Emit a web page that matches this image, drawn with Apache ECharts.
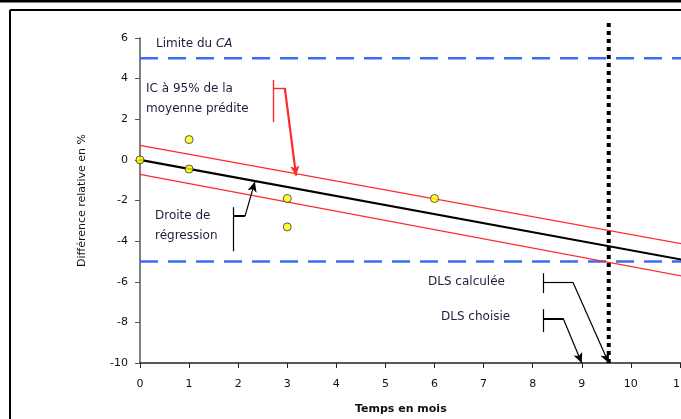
<!DOCTYPE html>
<html>
<head>
<meta charset="utf-8">
<script src="https://cdn.jsdelivr.net/npm/echarts@6/dist/echarts.min.js"></script>
<style>
  html, body { margin: 0; padding: 0; background: #fff; }
  #chart { width: 681px; height: 419px; }
</style>
</head>
<body>
<div id="chart"></div>
<script>
  // points mesurés
  var months = [0, 1, 1, 3, 3, 6];
  var diffs = [0, 1.0, -0.45, -1.9, -3.3, -1.9];
  // droite de régression et IC 95%
  var fitX = [0, 12];
  var fitY = [0, -5.34];
  var upperY = [0.71, -4.55];
  var lowerY = [-0.71, -6.15];
  // limites du CA
  var limits = [5, -5];
  // DLS
  var dlsCalc = 9.55;
  var dlsChoisie = 9;
  var dlsTop = 6.75;

  var font = '"DejaVu Sans", sans-serif';
  var textCol = '#1e1e3c';
  var red = '#ff2a2a';

  function pairs(xs, ys) {
    return xs.map(function(x, i) { return [x, ys[i]]; });
  }
  function seg(a, b, style, arrow) {
    return [
      { coord: a, lineStyle: style, symbol: 'none' },
      { coord: b, symbol: arrow ? 'arrow' : 'none', symbolSize: arrow ? [7, 10] : 0 }
    ];
  }
  function note(x, y, txt) {
    return { type: 'text', left: x, top: y, silent: true, style: { text: txt, fill: textCol, font: '12px ' + font } };
  }

  var chart = echarts.init(document.getElementById('chart'));
  var option = {
    animation: false,
    grid: { left: 140, top: 38, right: -48, bottom: 56, containLabel: false, outerBoundsMode: 'none' },
    xAxis: {
      type: 'value', min: 0, max: 12, interval: 1,
      axisLine: { onZero: false, lineStyle: { color: '#222', width: 1.5 } },
      axisTick: { length: 5, lineStyle: { color: '#222' } },
      axisLabel: { margin: 16, color: '#111', fontFamily: font, fontSize: 11 },
      splitLine: { show: false }
    },
    yAxis: {
      type: 'value', min: -10, max: 6, interval: 2,
      name: 'Différence relative en %', nameLocation: 'middle', nameGap: 52, nameRotate: 90,
      nameTextStyle: { color: '#111', fontFamily: font, fontSize: 11 },
      axisLine: { show: true, lineStyle: { color: '#555', width: 1.5 } },
      axisTick: { show: true, length: 5, lineStyle: { color: '#555' } },
      axisLabel: { margin: 12, color: '#111', fontFamily: font, fontSize: 11 },
      splitLine: { show: false }
    },
    series: [
      {
        type: 'line', data: [[0, limits[0]], [12, limits[0]]], symbol: 'none', silent: true,
        lineStyle: { color: '#3b6cf2', width: 2.5, type: [18, 10] }
      },
      {
        type: 'line', data: [[0, limits[1]], [12, limits[1]]], symbol: 'none', silent: true,
        lineStyle: { color: '#3b6cf2', width: 2.5, type: [18, 10] }
      },
      {
        type: 'line', data: pairs(fitX, upperY), symbol: 'none', silent: true,
        lineStyle: { color: red, width: 1.2 }
      },
      {
        type: 'line', data: pairs(fitX, lowerY), symbol: 'none', silent: true,
        lineStyle: { color: red, width: 1.2 }
      },
      {
        type: 'line', data: pairs(fitX, fitY), symbol: 'none', silent: true,
        lineStyle: { color: '#000', width: 2.2 }
      },
      {
        type: 'line', data: [[dlsCalc, -10], [dlsCalc, dlsTop]], symbol: 'none', silent: true, clip: false,
        lineStyle: { color: '#000', width: 4, type: [4, 4] }, z: 5
      },
      {
        type: 'scatter', data: pairs(months, diffs), symbolSize: 8, silent: true,
        itemStyle: { color: '#ffff00', borderColor: '#333', borderWidth: 1 }, z: 6
      },
      {
        // flèches d'annotation
        type: 'line', data: [], silent: true,
        markLine: {
          silent: true, animation: false, label: { show: false },
          symbol: ['none', 'none'],
          lineStyle: { color: '#000', width: 1, type: 'solid' },
          data: [
            // IC 95%
            seg([2.71, 3.93], [2.71, 1.86], { color: red, width: 1.4 }),
            seg([2.71, 3.54], [2.95, 3.54], { color: red, width: 1.4 }),
            seg([2.95, 3.54], [3.18, -0.78], { color: red, width: 2.2 }, true),
            // régression
            seg([1.91, -2.33], [1.91, -4.5], { color: '#000', width: 1.2 }),
            seg([1.91, -2.77], [2.14, -2.77], { color: '#000', width: 2 }),
            seg([2.14, -2.77], [2.34, -1.08], { color: '#000', width: 1.2 }, true),
            // DLS calculée
            seg([8.21, -5.58], [8.21, -6.56], { color: '#000', width: 1.2 }),
            seg([8.21, -6.02], [8.82, -6.02], { color: '#000', width: 1.2 }),
            seg([8.82, -6.02], [dlsCalc, -10], { color: '#000', width: 1.2 }, true),
            // DLS choisie
            seg([8.21, -7.35], [8.21, -8.48], { color: '#000', width: 1.2 }),
            seg([8.21, -7.8], [8.62, -7.8], { color: '#000', width: 2 }),
            seg([8.62, -7.8], [dlsChoisie, -10], { color: '#000', width: 1.2 }, true)
          ]
        }
      }
    ],
    graphic: [
      { type: 'rect', shape: { x: 0, y: 0, width: 681, height: 2.5 }, style: { fill: '#000' }, silent: true },
      { type: 'line', shape: { x1: 10, y1: 10, x2: 681, y2: 10 }, style: { stroke: '#000', lineWidth: 2 }, silent: true },
      { type: 'line', shape: { x1: 10, y1: 10, x2: 10, y2: 419 }, style: { stroke: '#000', lineWidth: 2 }, silent: true },
      {
        type: 'text', left: 156, top: 38, silent: true,
        style: {
          text: 'Limite du {i|CA}', fill: textCol, font: '12px ' + font,
          rich: { i: { fontStyle: 'italic', fontSize: 12, fontFamily: font, fill: textCol } }
        }
      },
      note(146, 83, 'IC à 95% de la'),
      note(146, 103, 'moyenne prédite'),
      note(155, 210, 'Droite de'),
      note(155, 230, 'régression'),
      note(428, 276, 'DLS calculée'),
      note(441, 311, 'DLS choisie'),
      { type: 'text', left: 355, top: 404, silent: true, style: { text: 'Temps en mois', fill: '#111', font: 'bold 11px ' + font } }
    ]
  };
  chart.setOption(option);
</script>
</body>
</html>
